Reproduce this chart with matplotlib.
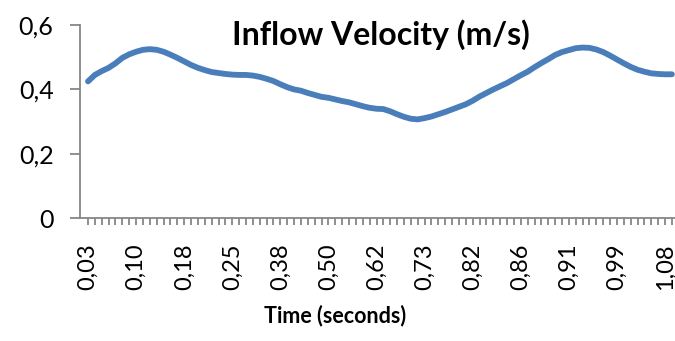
import matplotlib
matplotlib.use("Agg")
import matplotlib.pyplot as plt
import numpy as np

plt.rcParams['font.family'] = ['Lato', 'DejaVu Sans']

# inflow velocity (m/s), one value per sample (category axis, Excel style)
velocity = [0.425, 0.445, 0.457, 0.467, 0.481, 0.498, 0.509, 0.517, 0.523, 0.525,
            0.523, 0.517, 0.508, 0.498, 0.487, 0.476, 0.467, 0.460, 0.454, 0.451,
            0.448, 0.446, 0.445, 0.445, 0.443, 0.439, 0.433, 0.426, 0.416, 0.407,
            0.400, 0.396, 0.389, 0.383, 0.377, 0.374, 0.369, 0.364, 0.360, 0.354,
            0.348, 0.343, 0.340, 0.339, 0.332, 0.323, 0.315, 0.309, 0.307, 0.311,
            0.316, 0.323, 0.330, 0.338, 0.346, 0.354, 0.365, 0.378, 0.389, 0.400,
            0.410, 0.420, 0.432, 0.444, 0.455, 0.469, 0.482, 0.494, 0.507, 0.516,
            0.522, 0.528, 0.530, 0.529, 0.524, 0.516, 0.505, 0.493, 0.481, 0.470,
            0.461, 0.455, 0.450, 0.448, 0.447, 0.447]
time_labels = ['0,03', '0,10', '0,18', '0,25', '0,38', '0,50', '0,62',
               '0,73', '0,82', '0,86', '0,91', '0,99', '1,08']
label_every = 7
y_ticks = [0, 0.2, 0.4, 0.6]
y_labels = ['0', '0,2', '0,4', '0,6']

axis_grey = '#868686'

fig = plt.figure(figsize=(6.75, 3.41), dpi=100)
ax = fig.add_axes([80/675, 1 - 218.3/341, 1 - 80/675, (218.3 - 25)/341])

x = np.arange(len(velocity))
ax.plot(x, velocity, color='#4A7EBB', lw=4.2, solid_capstyle='round',
        solid_joinstyle='round')

# first category sits a bit right of the value axis, chart cut at the right
ax.set_xlim(-1.165, 85.45)
ax.set_ylim(0, 0.6)

for s in ['top', 'right']:
    ax.spines[s].set_visible(False)
for s in ['left', 'bottom']:
    ax.spines[s].set_color(axis_grey)
    ax.spines[s].set_linewidth(1.3)

# a tick mark on every sample, a label on every 7th
xlabels = [''] * len(x)
for k, lab in enumerate(time_labels):
    xlabels[k * label_every] = lab
ax.set_xticks(x)
ax.set_xticklabels(xlabels, rotation=90, fontsize=17)
ax.tick_params(axis='x', length=5, width=1.3, color=axis_grey,
               direction='out', pad=13)

ax.set_yticks(y_ticks)
ax.set_yticklabels(y_labels, fontsize=18)
ax.tick_params(axis='y', length=7, width=1.3, color=axis_grey, pad=12)

fig.text(381/675, 1 - 45/341, 'Inflow Velocity (m/s)', ha='center',
         va='baseline', fontsize=23, fontweight='bold')
fig.text(335/675, 1 - 322/341, 'Time (seconds)', ha='center',
         va='baseline', fontsize=15.5, fontweight='bold')

fig.savefig('out.png', dpi=100)
